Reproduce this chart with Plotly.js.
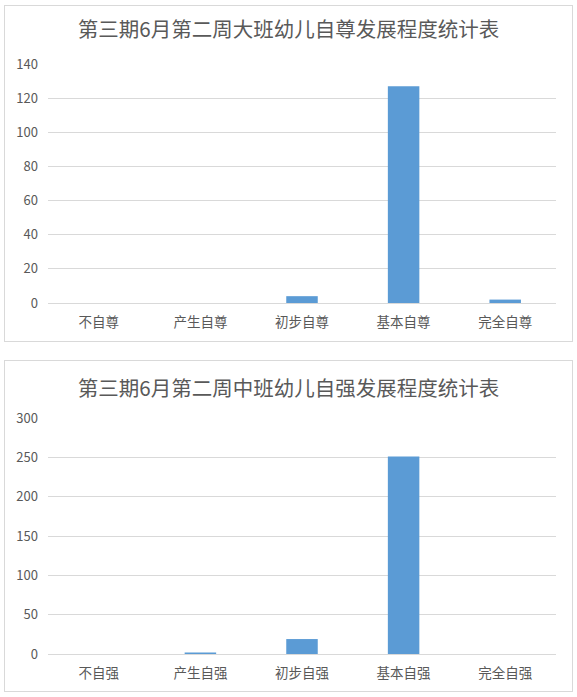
<!DOCTYPE html>
<html>
<head>
<meta charset="utf-8">
<script src="https://cdn.plot.ly/plotly-3.0.1.min.js"></script>
<style>
  body { margin: 0; background: #fff; }
  .box { position: absolute; left: 4px; width: 567px; border: 1px solid #d9d9d9; background: #fff; }
  #chart_top { top: 5px; height: 335px; }
  #chart_bottom { top: 360px; height: 330px; }
</style>
</head>
<body>
<div id="chart_top" class="box"></div>
<div id="chart_bottom" class="box"></div>
<script>
// 大班 自尊
const topTitle = '第三期6月第二周大班幼儿自尊发展程度统计表';
const topCategories = ['不自尊', '产生自尊', '初步自尊', '基本自尊', '完全自尊'];
const topValues = [0, 0, 4, 127, 2];
const topTicks = [0, 20, 40, 60, 80, 100, 120, 140];

// 中班 自强
const bottomTitle = '第三期6月第二周中班幼儿自强发展程度统计表';
const bottomCategories = ['不自强', '产生自强', '初步自强', '基本自强', '完全自强'];
const bottomValues = [0, 2, 19, 251, 0];
const bottomTicks = [0, 50, 100, 150, 200, 250, 300];

const fontFamily = '"Noto Sans CJK SC", "Noto Sans", sans-serif';

function configureChart(elementId, title, categories, values, ticks, margin, titleY) {
    const data = [{
        x: categories,
        y: values,
        type: 'bar',
        marker: { color: '#5b9bd5' },
        width: 0.31,
        hoverinfo: 'x+y',
    }];

    const layout = {
        width: 567,
        height: document.getElementById(elementId).clientHeight,
        margin: margin,
        showlegend: false,
        paper_bgcolor: '#fff',
        plot_bgcolor: '#fff',
        font: { family: fontFamily, color: '#595959', size: 13 },
        title: {
            text: title,
            font: { family: fontFamily, size: 20.5, color: '#595959' },
            x: 0.5, xanchor: 'center',
            y: titleY, yanchor: 'middle', yref: 'container',
        },
        xaxis: {
            type: 'category',
            showgrid: false,
            showline: false,
            zeroline: false,
            ticks: '',
            ticklabelstandoff: 9,
            tickfont: { size: 13.5, color: '#595959' },
            fixedrange: true,
        },
        yaxis: {
            range: [0, ticks[ticks.length - 1]],
            tickvals: ticks,
            showgrid: true,
            gridcolor: '#d9d9d9',
            gridwidth: 1,
            zeroline: true,
            zerolinecolor: '#d9d9d9',
            zerolinewidth: 1,
            showline: false,
            ticks: '',
            ticklabelstandoff: 9,
            tickfont: { size: 13, color: '#595959' },
            fixedrange: true,
        },
    };

    Plotly.newPlot(elementId, data, layout, { displayModeBar: false, staticPlot: true });
}

configureChart('chart_top', topTitle, topCategories, topValues, topTicks,
    { l: 43, r: 16, t: 58, b: 38 }, 1 - 24 / 335);
configureChart('chart_bottom', bottomTitle, bottomCategories, bottomValues, bottomTicks,
    { l: 43, r: 16, t: 57, b: 37 }, 1 - 28 / 330);
</script>
</body>
</html>
